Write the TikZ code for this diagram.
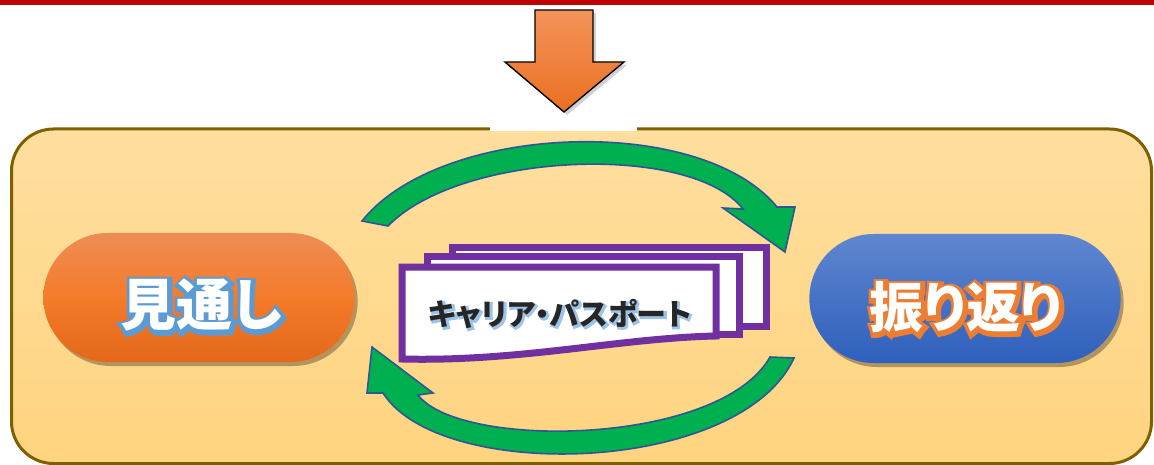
\documentclass[tikz,border=0pt]{standalone}
\usepackage{fontspec}
\newfontfamily\cjk{Noto Sans CJK JP}[RawFeature=+palt]
\newfontfamily\cjkolbig{Noto Sans CJK JP}[RawFeature=+palt, BoldFeatures={FakeBold=14}]
\newfontfamily\cjkolsmall{Noto Sans CJK JP}[RawFeature=+palt, BoldFeatures={FakeBold=8}]
\usetikzlibrary{shapes.misc,shadows}
\definecolor{topred}{HTML}{C00000}
\definecolor{boxline}{HTML}{7F6000}
\definecolor{boxtop}{HTML}{FFDE9E}
\definecolor{boxbot}{HTML}{FFD480}
\definecolor{arrtop}{HTML}{F4935A}
\definecolor{arrbot}{HTML}{EA7021}
\definecolor{ortop}{HTML}{EE8C55}
\definecolor{ormid}{HTML}{F47B2A}
\definecolor{orbot}{HTML}{E4681A}
\definecolor{bltop}{HTML}{5F86CF}
\definecolor{blbot}{HTML}{2F60BD}
\definecolor{grn}{HTML}{00B050}
\definecolor{grnline}{HTML}{2F5597}
\definecolor{purp}{HTML}{7030A0}
\definecolor{lblue}{HTML}{5B9BD5}
\definecolor{paleblue}{HTML}{9DC3E6}
\definecolor{orline}{HTML}{ED7D31}
\tikzset{
  pill/.style={rounded rectangle, draw=none, minimum width=318pt, minimum height=129pt,
    drop shadow={shadow xshift=3pt, shadow yshift=-4pt, opacity=0.35, fill=black!80!brown}},
  garrow/.style={fill=grn, draw=grnline, line width=1.6pt, line join=miter},
  sheet/.style={fill=white, draw=purp, line width=7pt, line join=miter},
  txt/.style={inner sep=0pt},
}
\begin{document}
\begin{tikzpicture}[x=1pt,y=-1pt]
\useasboundingbox (0,0) rectangle (1154,465);
% top red rule
\fill[topred] (0,0) rectangle (1154,5);
% big box
\draw[draw=boxline, line width=3pt, rounded corners=42pt, top color=boxtop, bottom color=boxbot]
  (11.5,129) rectangle (1151.5,463.5);
% white patch behind arrow
\fill[white] (490,5) rectangle (637,130.6);
% orange down arrow
\draw[line width=1.4pt, line join=miter, top color=arrtop, bottom color=arrbot,
      drop shadow={shadow xshift=3pt, shadow yshift=-3pt, opacity=0.35}]
  (535,10) -- (593,10) -- (593,62) -- (624,62) -- (564,112) -- (505,62) -- (535,62) -- cycle;
% pills
\node[pill, top color=ortop, bottom color=orbot, middle color=ormid] (mitoshi) at (199,297.5) {};
\node[pill, top color=bltop, bottom color=blbot] (furikaeri) at (965,298.5) {};
% outlined labels: coloured stroked layer, then white fill layer
\node[txt, text=lblue, font=\cjkolbig\bfseries\fontsize{56}{56}\selectfont] (mitoshiO) at (202,306.5) {見通し};
\node[txt, text=white, font=\cjk\bfseries\fontsize{56}{56}\selectfont] (mitoshiT) at (201,305) {見通し};
\node[txt, text=orline, font=\cjkolbig\bfseries\fontsize{54}{54}\selectfont] (furikaeriO) at (967,308.5) {振り返り};
\node[txt, text=white, font=\cjk\bfseries\fontsize{54}{54}\selectfont] (furikaeriT) at (966,307) {振り返り};
% passport sheets
\draw[sheet] (452.5,247.5) rectangle (766.5,326.5);
\draw[sheet] (427.5,256.5) rectangle (739.5,334);
\draw[sheet] (402,267) -- (716,267) -- (716,336) .. controls (620,338) and (520,362) .. (402,359) -- cycle;
\node[txt, text=paleblue, font=\cjkolsmall\bfseries\fontsize{30}{30}\selectfont] (passportO) at (561.2,315.2) {キャリア・パスポート};
\node[txt, text=black!85, font=\cjk\bfseries\fontsize{30}{30}\selectfont] (passport) at (560,314) {キャリア・パスポート};
% green arrows
\draw[garrow] (362,221) .. controls (440,123) and (700,113) .. (777,207)
  -- (795,207) -- (785,252) -- (723,208) -- (743,209)
  .. controls (690,142) and (460,152) .. (388,226) -- cycle;
\draw[garrow] (794,358) .. controls (740,475) and (440,483) .. (383,393)
  -- (367,393) -- (372,347) -- (433,393) -- (418,395)
  .. controls (460,450) and (720,446) .. (770,357) -- cycle;
\end{tikzpicture}
\end{document}
